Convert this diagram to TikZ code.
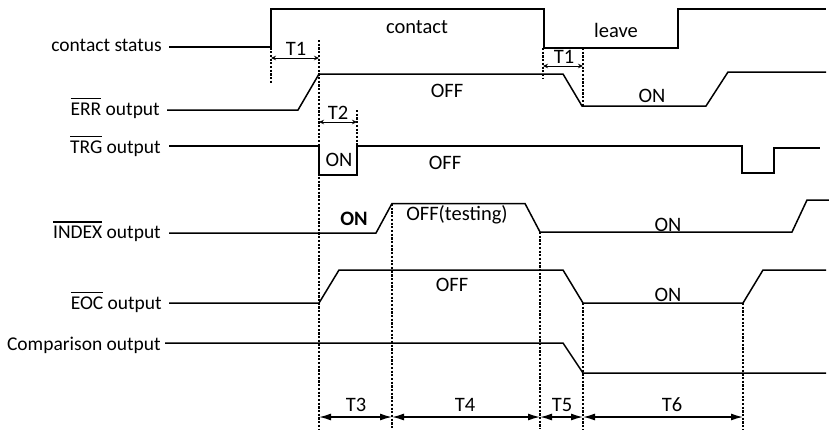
\documentclass[tikz,border=0pt]{standalone}
\usepackage{fontspec}
\setmainfont{Carlito}
\usetikzlibrary{arrows.meta}
\newcommand\ovl[1]{\leavevmode\vbox{\hrule height 1.4pt\kern 3.2pt\hbox{#1}}}
\begin{document}
\begin{tikzpicture}[x=1pt,y=-1pt,
 sig/.style={line width=1.5pt, line join=miter},
 guide/.style={line width=1.1pt, dash pattern=on 2.2pt off 1.5pt},
 lbl/.style={anchor=base east, inner sep=0pt, font=\fontsize{19.5}{22}\selectfont},
 txt/.style={inner sep=0pt, font=\fontsize{20.5}{23}\selectfont},
 smallarr/.style={{Stealth[length=5pt,width=4.5pt]}-{Stealth[length=5pt,width=4.5pt]}, line width=1pt},
 bigarr/.style={{Latex[length=12pt,width=7pt]}-{Latex[length=12pt,width=7pt]}, line width=1.4pt}]
\useasboundingbox (0,0) rectangle (829,429);

% signal labels
\node[lbl] (lcs)  at (162,51.7) {contact status};
\node[lbl] (lerr) at (160,115) {\ovl{ERR} output};
\node[lbl] (ltrg) at (161,153.3) {\ovl{TRG} output};
\node[lbl] (lidx) at (161,238.3) {\ovl{INDEX} output};
\node[lbl] (leoc) at (162,309) {\ovl{EOC} output};
\node[lbl] (lcmp) at (161,350) {Comparison output};

% waveforms
\draw[sig] (169,47) -- (271,47) -- (271,9) -- (544,9) -- (544,48) -- (678,48) -- (678,9) -- (826,9);
\draw[sig] (167,110) -- (298,110) -- (319,74) -- (563,74) -- (582,106) -- (706,106) -- (728,72) -- (826,72);
\draw[sig] (169,146) -- (319,146) -- (319,175) -- (357,175) -- (357,146) -- (742,146) -- (742,173) -- (774,173) -- (774,148) -- (820,148);
\draw[sig] (169,233) -- (376,233) -- (392,203.5) -- (525,203.5) -- (540,232) -- (792,232) -- (807,200) -- (829,200);
\draw[sig] (169,303) -- (319,303) -- (339,270) -- (563,270) -- (583,303) -- (743,303) -- (763,270) -- (826,270);
\draw[sig] (165,343) -- (563,343) -- (583,373) -- (826,373);

% guide lines
\coordinate (g1t) at (271,40);  \coordinate (g1b) at (271,84);
\coordinate (g2t) at (319,40);  \coordinate (g2b) at (319,429);
\coordinate (g3t) at (357,110); \coordinate (g3b) at (357,175);
\coordinate (g4t) at (392,204); \coordinate (g4b) at (392,429);
\coordinate (g5t) at (540,232); \coordinate (g5b) at (540,429);
\coordinate (g6t) at (543,48);  \coordinate (g6b) at (543,79);
\coordinate (g7t) at (583,48);  \coordinate (g7b) at (583,106);
\coordinate (g8t) at (583,303); \coordinate (g8b) at (583,429);
\coordinate (g9t) at (743,303); \coordinate (g9b) at (743,429);
\foreach \g in {1,...,9} \draw[guide] (g\g t) -- (g\g b);

% timing arrows
\coordinate (a1l) at (271,58);  \coordinate (a1r) at (319,58);
\coordinate (a2l) at (543,66);  \coordinate (a2r) at (583,66);
\coordinate (a3l) at (319,122); \coordinate (a3r) at (357,122);
\draw[smallarr] (a1l) -- (a1r);
\draw[smallarr] (a2l) -- (a2r);
\draw[smallarr] (a3l) -- (a3r);
\node[txt] (t1a) at (296,49) {T1};
\node[txt] (t1b) at (564,57) {T1};
\node[txt] (t2)  at (338,113) {T2};

\coordinate (b1) at (319,417); \coordinate (b2) at (392,417);
\coordinate (b3) at (540,417); \coordinate (b4) at (583,417);
\coordinate (b5) at (743,417);
\draw[bigarr] (b1) -- (b2);
\draw[bigarr] (b2) -- (b3);
\draw[bigarr] (b3) -- (b4);
\draw[bigarr] (b4) -- (b5);
\node[txt] (t3) at (356,405) {T3};
\node[txt] (t4) at (465,405) {T4};
\node[txt] (t5) at (562,405) {T5};
\node[txt] (t6) at (672,405) {T6};

% state texts
\node[txt] (scontact) at (417,27) {contact};
\node[txt] (sleave)   at (616,30) {leave};
\node[txt] (serroff)  at (447,91) {OFF};
\node[txt] (serron)   at (652,96) {ON};
\node[txt] (strgon)   at (339,160) {ON};
\node[txt] (strgoff)  at (445,163) {OFF};
\node[txt] (sidxon)   at (354,219) {\textbf{ON}};
\node[txt] (sidxoff)  at (457,215) {OFF(testing)};
\node[txt] (sidxon2)  at (668,225) {ON};
\node[txt] (seocoff)  at (452,285) {OFF};
\node[txt] (seocon)   at (668,295) {ON};
\end{tikzpicture}
\end{document}
